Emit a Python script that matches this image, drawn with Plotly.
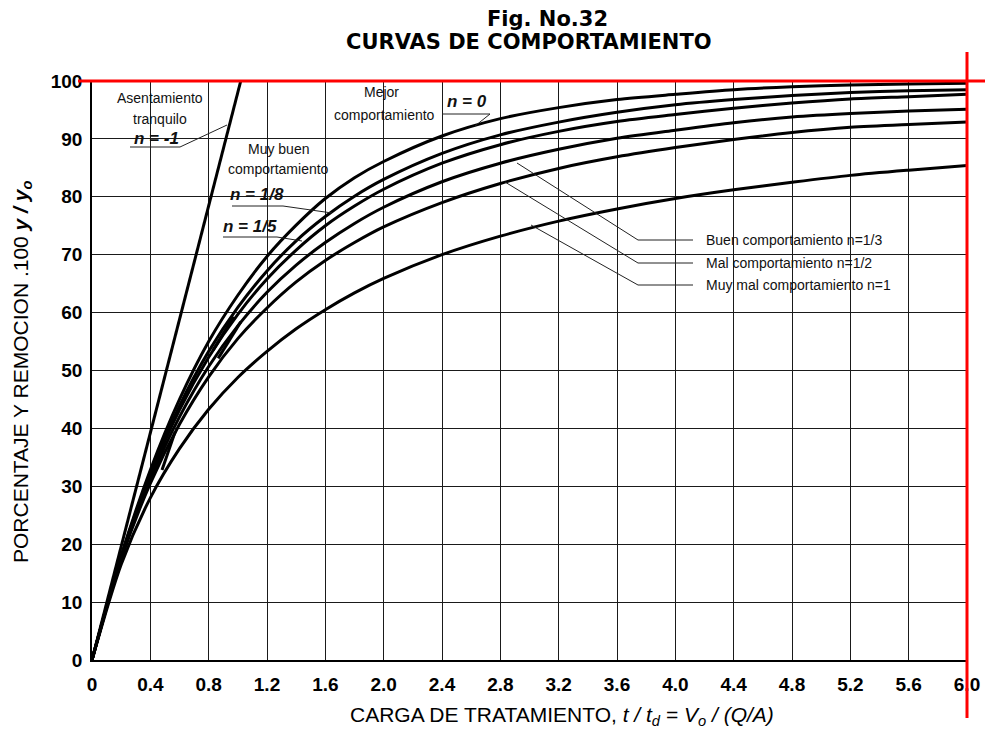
import plotly.graph_objects as go

# ---------------- data ----------------
x_vals = [0, 0.2, 0.4, 0.6, 0.8, 1.0, 1.2, 1.4, 1.6, 1.8, 2.0, 2.4, 2.8,
          3.2, 3.6, 4.0, 4.4, 4.8, 5.2, 5.6, 6.0]
n_0 = [0, 18.0, 32.8, 45.0, 55.0, 63.0, 69.7, 75.1, 79.7, 83.3, 86.1, 90.5,
       93.5, 95.4, 96.8, 97.7, 98.5, 99.0, 99.3, 99.5, 99.6]
n_1_8 = [0, 17.9, 32.2, 43.9, 53.3, 60.9, 67.2, 72.4, 76.6, 80.1, 83.0, 87.5,
         90.7, 92.9, 94.6, 95.9, 96.8, 97.5, 98.0, 98.3, 98.5]
n_1_5 = [0, 17.8, 31.8, 43.2, 52.3, 59.7, 65.8, 70.8, 75.0, 78.4, 81.3, 85.8,
         89.0, 91.3, 93.0, 94.2, 95.3, 96.2, 96.9, 97.3, 97.7]
n_1_3 = [0, 17.6, 31.2, 42.0, 50.7, 57.7, 63.5, 68.2, 72.1, 75.4, 78.2, 82.6,
         85.8, 88.2, 90.1, 91.5, 92.8, 93.8, 94.4, 94.8, 95.1]
n_1_2 = [0, 17.4, 30.5, 40.7, 48.9, 55.5, 60.8, 65.3, 69.0, 72.1, 74.8, 79.0,
         82.3, 84.9, 86.9, 88.5, 89.9, 91.1, 92.0, 92.5, 92.9]
n_1 = [0, 16.5, 28.0, 36.5, 43.3, 48.8, 53.3, 57.2, 60.5, 63.4, 65.9, 70.0,
       73.2, 75.8, 77.9, 79.7, 81.2, 82.5, 83.7, 84.6, 85.4]
# n = -1 (settling, straight line)
n_m1_x = [0, 1.02]
n_m1_y = [0, 100]
# short extra strokes of the hand drawing
frag1_x = [0.48, 0.57]
frag1_y = [32.8, 39.4]
frag2_x = [0.83, 0.97]
frag2_y = [53.5, 59.3]
frag3_x = [0.865, 1.02]
frag3_y = [52.1, 58.4]

x_ticks = [0, 0.4, 0.8, 1.2, 1.6, 2.0, 2.4, 2.8, 3.2, 3.6, 4.0, 4.4, 4.8,
           5.2, 5.6, 6.0]
x_ticktext = ["0", "0.4", "0.8", "1.2", "1.6", "2.0", "2.4", "2.8", "3.2",
              "3.6", "4.0", "4.4", "4.8", "5.2", "5.6", "6.0"]
y_ticks = [0, 10, 20, 30, 40, 50, 60, 70, 80, 90, 100]

# ---------------- layout geometry ----------------
W, H = 985, 733
L, R, T, B = 92, 18, 81, 73
PW, PH = W - L - R, H - T - B


def X(px):  # pixel -> data x
    return (px - L) / PW * 6.0


def Y(py):  # pixel -> data y
    return (H - B - py) / PH * 100.0


def PX(px):  # pixel -> paper x
    return (px - L) / PW


def PY(py):  # pixel -> paper y
    return (H - B - py) / PH


SANS = "Liberation Sans, Arial, sans-serif"

fig = go.Figure()
curve_style = dict(color="black", width=3)
for ys, nm in [(n_0, "n=0"), (n_1_8, "n=1/8"), (n_1_5, "n=1/5"),
               (n_1_3, "n=1/3"), (n_1_2, "n=1/2"), (n_1, "n=1")]:
    fig.add_trace(go.Scatter(x=x_vals, y=ys, mode="lines", name=nm,
                             line=dict(color="black", width=3, shape="spline",
                                       smoothing=0.8),
                             hoverinfo="skip"))
fig.add_trace(go.Scatter(x=n_m1_x, y=n_m1_y, mode="lines", name="n=-1",
                         line=curve_style, hoverinfo="skip"))
for fx, fy in [(frag1_x, frag1_y), (frag2_x, frag2_y), (frag3_x, frag3_y)]:
    fig.add_trace(go.Scatter(x=fx, y=fy, mode="lines", line=curve_style,
                             hoverinfo="skip"))

annotations = []
shapes = []


def text(px, py, s, size=14, family=SANS, xanchor="center", weight="normal",
         style="normal", color="#111"):
    annotations.append(dict(x=X(px), y=Y(py), xref="x", yref="y", text=s,
                            showarrow=False, xanchor=xanchor, yanchor="middle",
                            font=dict(size=size, family=family, color=color,
                                      weight=weight, style=style)))


def seg(points, color="#222", width=1):
    for (x0, y0), (x1, y1) in zip(points[:-1], points[1:]):
        shapes.append(dict(type="line", xref="x", yref="y",
                           x0=X(x0), y0=Y(y0), x1=X(x1), y1=Y(y1),
                           line=dict(color=color, width=width), layer="above"))


# left annotations
text(160, 98, "Asentamiento", size=14)
text(160, 119, "tranquilo", size=14)
text(156, 138, "n = -1", size=17, weight="bold", style="italic")
seg([(130, 147), (180, 147), (227, 125)])

text(381, 92, "Mejor", size=14)
text(384, 115, "comportamiento", size=14)
text(467, 101, "n = 0", size=17, weight="bold", style="italic")
seg([(442, 114), (490, 114), (475, 126)])

text(278, 149, "Muy buen", size=14)
text(278, 169, "comportamiento", size=14)
text(257, 194, "n = 1/8", size=17, weight="bold", style="italic")
seg([(232, 206), (283, 206), (332, 213)])
text(250, 226, "n = 1/5", size=17, weight="bold", style="italic")
seg([(223, 237), (277, 237), (302, 241)])

# right annotations
text(704, 240, "Buen comportamiento n=1/3", size=14, xanchor="left")
text(704, 263, "Mal comportamiento n=1/2", size=14, xanchor="left")
text(704, 285, "Muy mal comportamiento n=1", size=14, xanchor="left")
seg([(517, 163), (638, 240), (693, 240)])
seg([(505, 182), (638, 263), (693, 263)])
seg([(531, 225), (638, 285), (693, 285)])

# titles
annotations.append(dict(x=PX(547), y=PY(19), xref="paper", yref="paper",
                        text="Fig. No.32", showarrow=False,
                        xanchor="center", yanchor="middle",
                        font=dict(size=21, family="DejaVu Sans", weight="bold",
                                  color="black")))
annotations.append(dict(x=PX(529), y=PY(42), xref="paper", yref="paper",
                        text="CURVAS DE COMPORTAMIENTO", showarrow=False,
                        xanchor="center", yanchor="middle",
                        font=dict(size=21, family="DejaVu Sans", weight="bold",
                                  color="black")))
# axis titles
annotations.append(dict(x=PX(562), y=PY(716), xref="paper", yref="paper",
                        text="CARGA DE TRATAMIENTO, <i>t / t<sub>d</sub> = V<sub>o</sub> / (Q/A)</i>",
                        showarrow=False, xanchor="center", yanchor="middle",
                        font=dict(size=21, family=SANS, color="black")))
annotations.append(dict(x=PX(22), y=PY(372), xref="paper", yref="paper",
                        text="PORCENTAJE Y REMOCION .100 <b><i>y / y<sub>o</sub></i></b>",
                        showarrow=False, textangle=-90,
                        xanchor="center", yanchor="middle",
                        font=dict(size=21, family=SANS, color="black")))

# red frame lines
shapes.append(dict(type="line", xref="paper", yref="paper",
                   x0=PX(78), x1=PX(990), y0=1, y1=1,
                   line=dict(color="#ff0000", width=3), layer="above"))
shapes.append(dict(type="line", xref="paper", yref="paper",
                   x0=1, x1=1, y0=PY(52), y1=PY(718),
                   line=dict(color="#ff0000", width=3), layer="above"))

fig.update_layout(
    width=W, height=H,
    margin=dict(l=L, r=R, t=T, b=B, pad=0, autoexpand=False),
    paper_bgcolor="white", plot_bgcolor="white",
    showlegend=False,
    annotations=annotations, shapes=shapes,
    xaxis=dict(range=[0, 6.0], tickvals=x_ticks, ticktext=x_ticktext,
               automargin=False,
               showgrid=True, gridcolor="#1a1a1a", gridwidth=1,
               zeroline=False, showline=True, linecolor="black", linewidth=1.5,
               ticks="", ticklabelstandoff=6,
               tickfont=dict(size=19, family=SANS, weight="bold", color="black")),
    yaxis=dict(range=[0, 100], tickvals=y_ticks,
               automargin=False,
               showgrid=True, gridcolor="#1a1a1a", gridwidth=1,
               zeroline=False, showline=True, linecolor="black", linewidth=1.5,
               ticks="", ticklabelstandoff=4,
               tickfont=dict(size=19, family=SANS, weight="bold", color="black")),
)

fig.write_html("out.html",
               config={"displayModeBar": False},
               post_script="document.body.style.margin='0';"
                           "document.body.style.overflow='hidden';")
